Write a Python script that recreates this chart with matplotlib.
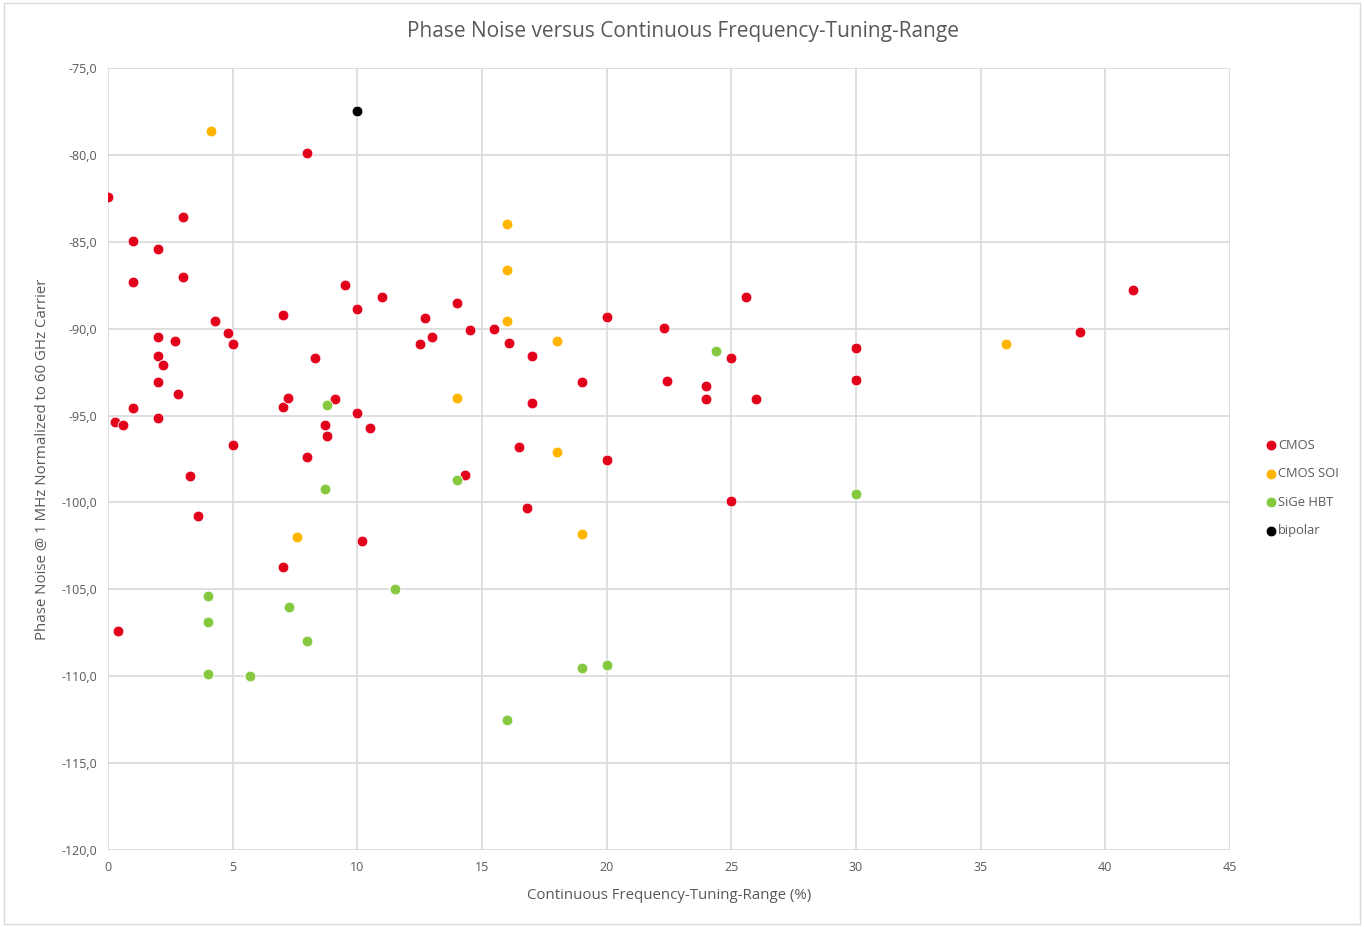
import matplotlib.pyplot as plt
from matplotlib.patches import Rectangle
from matplotlib.ticker import FuncFormatter

## データ
cmos_x = [0, 8.0, 1.0, 2.0, 3.0, 1.0, 3.0, 4.3, 2.0, 4.8, 2.7, 5.0, 2.0, 2.2, 2.0, 2.8,
          1.0, 0.3, 0.6, 2.0, 5.0, 3.3, 3.6, 0.4, 7.0, 7.0, 7.2, 9.5, 10.0, 11.0, 8.3,
          9.1, 10.0, 8.7, 8.8, 10.5, 8.0, 10.2, 7.0, 12.7, 12.5, 13.0, 14.0, 14.5, 15.5,
          16.1, 17.0, 17.0, 16.5, 14.3, 16.8, 20.0, 19.0, 20.0, 22.3, 22.4, 24.0, 24.0,
          25.0, 25.6, 26.0, 25.0, 30.0, 30.0, 39.0, 41.1]
cmos_y = [-82.4, -79.9, -84.95, -85.4, -83.6, -87.3, -87.0, -89.55, -90.5, -90.25, -90.7,
          -90.9, -91.6, -92.1, -93.07, -93.76, -94.56, -95.37, -95.54, -95.14, -96.7,
          -98.5, -100.8, -107.4, -89.2, -94.5, -94.0, -87.5, -88.87, -88.2, -91.7, -94.05,
          -94.85, -95.54, -96.2, -95.7, -97.4, -102.2, -103.7, -89.4, -90.9, -90.5, -88.5,
          -90.1, -90.0, -90.8, -91.6, -94.3, -96.8, -98.4, -100.3, -89.3, -93.07, -97.55,
          -89.96, -93.0, -93.3, -94.05, -91.7, -88.2, -94.05, -99.9, -91.1, -92.95,
          -90.2, -87.8]

soi_x = [4.13, 16.0, 16.0, 16.0, 18.0, 14.0, 18.0, 7.6, 19.0, 36.0]
soi_y = [-78.6, -84.0, -86.6, -89.55, -90.7, -94.0, -97.1, -102.0, -101.8, -90.9]

sige_x = [8.8, 8.7, 14.0, 4.0, 4.0, 7.26, 8.0, 4.0, 5.7, 11.5, 16.0, 19.0, 20.0, 24.4, 30.0]
sige_y = [-94.4, -99.2, -98.7, -105.4, -106.9, -106.0, -108.0, -109.9, -110.0, -105.0,
          -112.5, -109.5, -109.35, -91.3, -99.5]

bipolar_x = [10.0]
bipolar_y = [-77.5]

x_ticks = [0, 5, 10, 15, 20, 25, 30, 35, 40, 45]
y_ticks = [-120, -115, -110, -105, -100, -95, -90, -85, -80, -75]

series = [
    ("CMOS", cmos_x, cmos_y, "#E2001A"),
    ("CMOS SOI", soi_x, soi_y, "#FFB400"),
    ("SiGe HBT", sige_x, sige_y, "#86C940"),
    ("bipolar", bipolar_x, bipolar_y, "#000000"),
]

plt.rcParams['font.family'] = ['Open Sans', 'DejaVu Sans']
text_color = "#595959"
grid_color = "#D9D9D9"

fig = plt.figure(figsize=(13.64, 9.27), dpi=100)
ax = fig.add_axes([108/1364, 1 - 850/927, (1230-108)/1364, (850-68)/927])

for name, xs, ys, c in series:
    ax.scatter(xs, ys, s=60, color=c, edgecolors="white", linewidths=0.6, label=name, zorder=3)

ax.set_xlim(0, 45)
ax.set_ylim(-120, -75)
ax.set_xticks(x_ticks)
ax.set_yticks(y_ticks)
ax.yaxis.set_major_formatter(FuncFormatter(lambda v, p: ("%.1f" % v).replace(".", ",")))
ax.grid(True, color=grid_color, linewidth=1.2)
ax.set_axisbelow(True)
for s in ax.spines.values():
    s.set_visible(False)
ax.tick_params(length=0, labelsize=9, labelcolor=text_color, pad=8)

ax.set_xlabel("Continuous Frequency-Tuning-Range (%)", fontsize=10.8, color=text_color, labelpad=10)
ax.set_ylabel("Phase Noise @ 1 MHz Normalized to 60 GHz Carrier", fontsize=10.8, color=text_color, labelpad=8)
fig.text(683/1364, 1 - 32/927, "Phase Noise versus Continuous Frequency-Tuning-Range",
         ha="center", va="center", fontsize=15, color=text_color)

leg = ax.legend(loc="center left", bbox_to_anchor=(1.02, 0.463), frameon=False, fontsize=9.3,
                handletextpad=-0.4, labelspacing=1.2, markerscale=1.0, borderaxespad=0)
for t in leg.get_texts():
    t.set_color(text_color)

fig.patches.append(Rectangle((0.003, 0.003), 0.994, 0.994, transform=fig.transFigure,
                             fill=False, edgecolor=grid_color, linewidth=1))

fig.savefig("out.png", dpi=100)
